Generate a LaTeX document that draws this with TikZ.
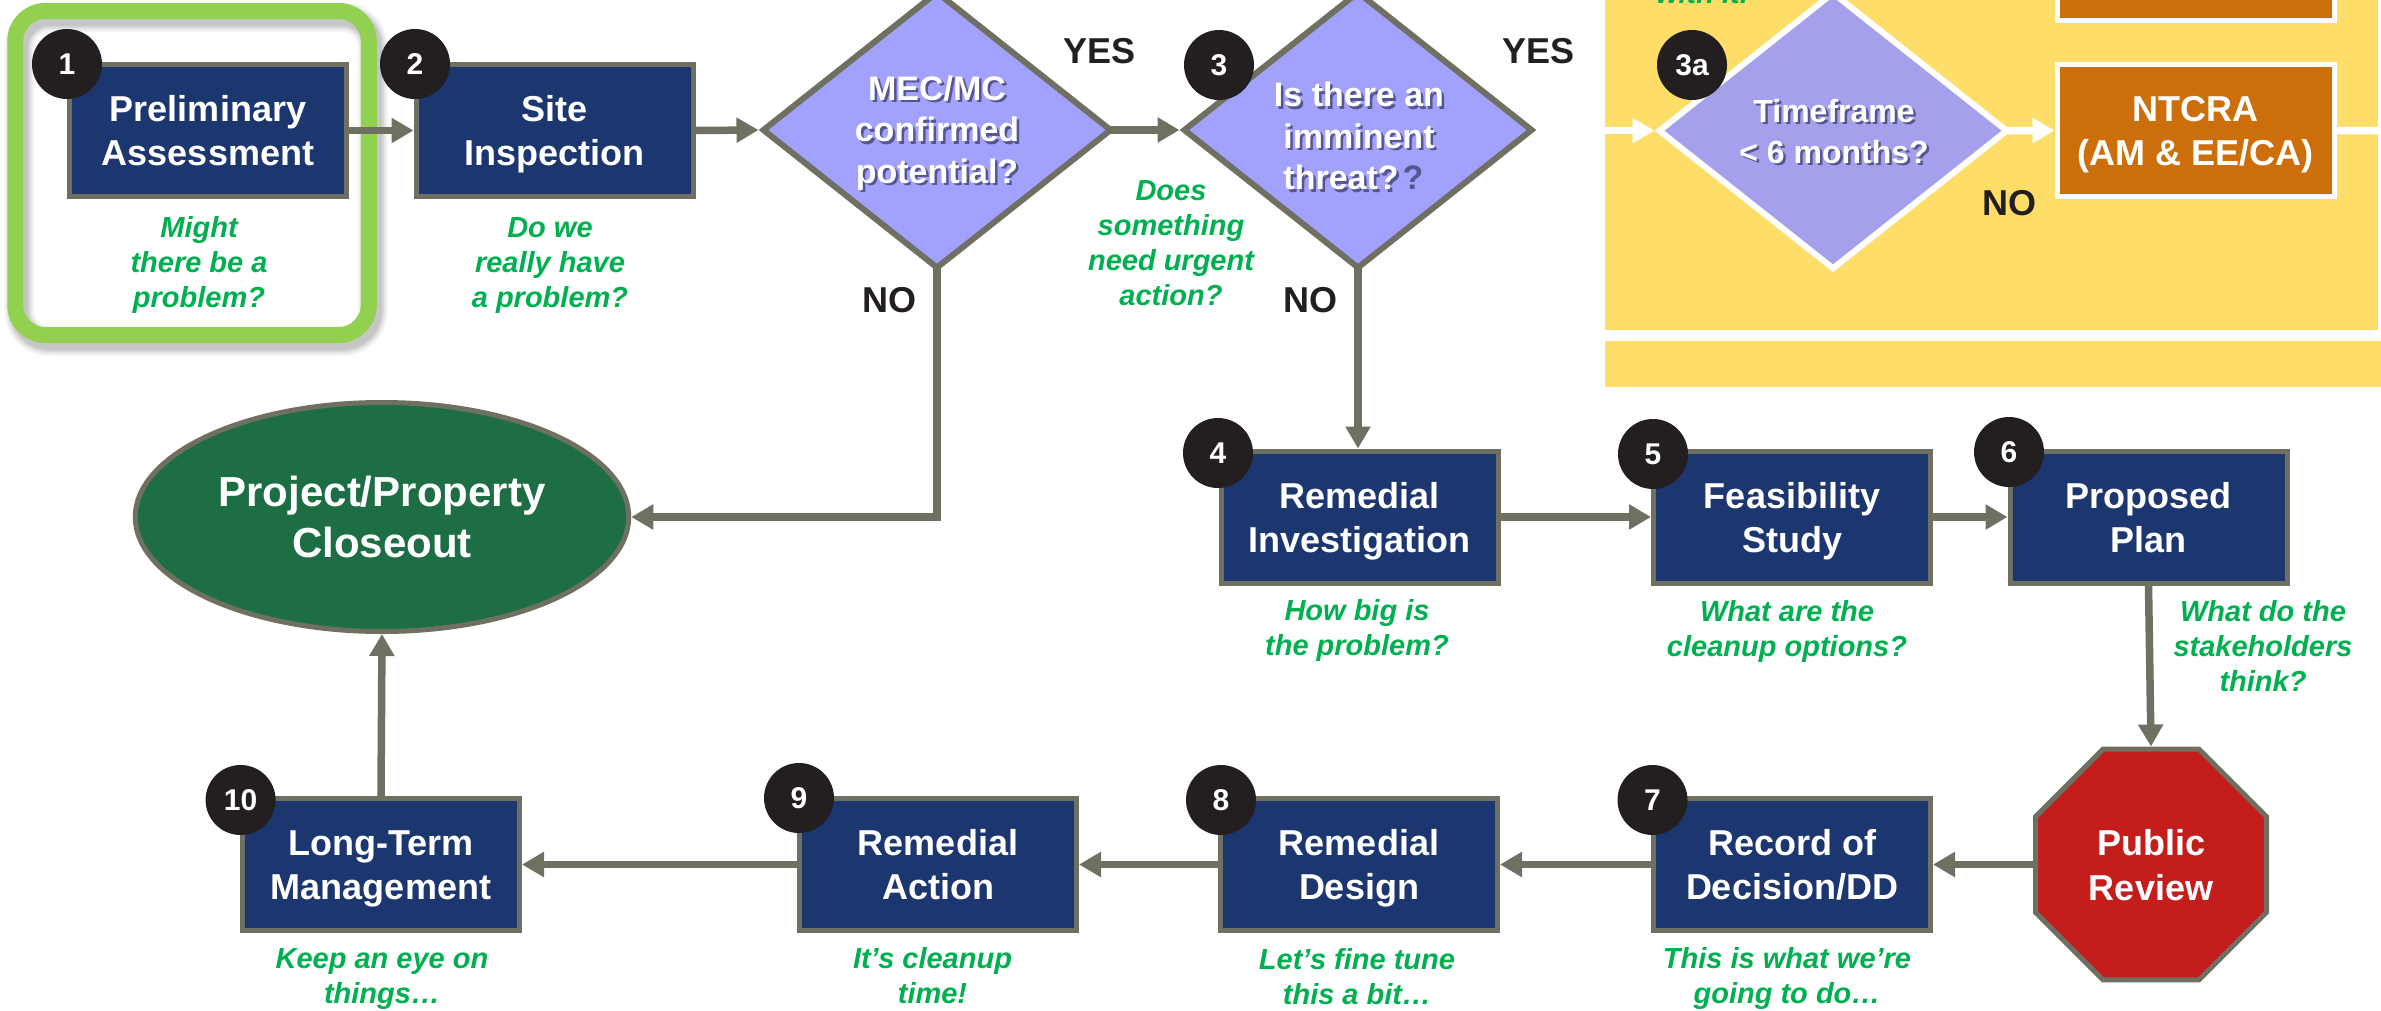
\documentclass[tikz,border=0pt]{standalone}
\usepackage{fontspec}
\setmainfont{Liberation Sans}
\usetikzlibrary{arrows.meta,shapes.geometric}
\definecolor{gline}{HTML}{6F7062}
\definecolor{navy}{HTML}{1C3770}
\definecolor{forest}{HTML}{1D6E44}
\definecolor{stopred}{HTML}{C41E1C}
\definecolor{framegreen}{HTML}{92D050}
\definecolor{capgreen}{HTML}{00B050}
\definecolor{ochre}{HTML}{CC6F0B}
\definecolor{sand}{HTML}{FEDD68}
\definecolor{lilac}{HTML}{A2A2FE}
\definecolor{lilactwo}{HTML}{A5A0EB}
\definecolor{ink}{HTML}{231F20}
\definecolor{dshadow}{HTML}{55558F}
\newcommand\st{\rule[-.2\baselineskip]{0pt}{\baselineskip}}
\newcommand\shw[1]{\st\leavevmode\rlap{\kern2.5pt\raisebox{-2.5pt}{\color{dshadow}#1}}#1}
\tikzset{
  boxbase/.style={rectangle,draw,line width=5pt,inner sep=0pt,minimum width=277pt,minimum height=132pt,
    text=white,align=center,font=\fontsize{36}{44}\selectfont\bfseries},
  navybox/.style={boxbase,draw=gline,fill=navy},
  orangebox/.style={boxbase,draw=white,fill=ochre},
  decision/.style={diamond,draw=gline,fill=lilac,line width=6pt,inner sep=0pt,outer sep=3.5pt,minimum width=350pt,minimum height=278pt},
  decisiontwo/.style={decision,draw=white,fill=lilactwo},
  dtext/.style={text=white,align=center,inner sep=0pt,font=\fontsize{34}{41.5}\selectfont\bfseries},
  badge/.style={circle,fill=ink,text=white,inner sep=0pt,minimum size=70pt,font=\fontsize{30}{32}\selectfont\bfseries},
  caption/.style={anchor=north,yshift=1pt,text=capgreen,align=center,inner sep=0pt,font=\fontsize{29}{35}\selectfont\bfseries\itshape},
  answer/.style={text=ink,inner sep=0pt,font=\fontsize{36}{40}\selectfont\bfseries},
  flow/.style={draw=gline,line width=7.5pt,-{Triangle[length=22pt,width=24pt]}},
  flowwhite/.style={draw=white,line width=7.5pt,-{Triangle[length=22pt,width=24pt]}},
  fromtip/.style={shorten <=-5pt},
  framering/.style={rectangle,rounded corners=30pt,minimum width=353.5pt,minimum height=324pt,inner sep=0pt},
}
\begin{document}
\begin{tikzpicture}[x=1pt,y=-1pt]
\useasboundingbox (0,0) rectangle (2381,1010);
\clip (0,0) rectangle (2381,1010);
% yellow panels
\fill[sand] (1605,0) rectangle (2378,330);
\fill[sand] (1605,341) rectangle (2381,387);
% highlight frame with soft shadow
\foreach \w/\o in {30/.04,26/.06,22/.07,18/.08}{
  \node[framering,draw=black,opacity=\o,line width=\w pt] (frameshadow\w) at (196,179) {};
}
\node[framering,draw=framegreen,line width=16pt] (frame) at (192,173) {};
% connectors that leave a decision tip (drawn under the decisions)
\coordinate (inL) at (1605,130.7);
\coordinate (outR) at (2378,130.7);
% boxes
\node[navybox] (b1) at (208,130.5) {\st Preliminary\\\st Assessment};
\node[navybox] (b2) at (554.5,130.5) {\st Site\\\st Inspection};
\node[navybox] (b4) at (1359.5,517) {\st Remedial\\\st Investigation};
\node[navybox] (b5) at (1792,517) {\st Feasibility\\\st Study};
\node[navybox] (b6) at (2148.5,517) {\st Proposed\\\st Plan};
\node[navybox] (b7) at (1792,864.5) {\st Record of\\\st Decision/DD};
\node[navybox] (b8) at (1359,864.5) {\st Remedial\\\st Design};
\node[navybox] (b9) at (938,864.5) {\st Remedial\\\st Action};
\node[navybox] (b10) at (381,864.5) {\st Long-Term\\\st Management};
\node[orangebox] (ntcra) at (2195.5,130.5) {\st NTCRA\\\st (AM \& EE/CA)};
\node[orangebox,minimum height=140pt] (upper) at (2195.5,-49.5) {};
% terminal shapes
\node[ellipse,draw=gline,fill=forest,line width=5pt,inner sep=0pt,minimum width=493.5pt,minimum height=229pt,
  text=white,align=center,font=\fontsize{42}{51}\selectfont\bfseries] (close) at (382,517) {\st Project/Property\\\st Closeout};
\node[regular polygon,regular polygon sides=8,draw=gline,fill=stopred,line width=5pt,inner sep=0pt,
  minimum size=250pt,text=white,align=center,font=\fontsize{36}{45}\selectfont\bfseries] (review) at (2151,864.5) {\st Public\\\st Review};
% decisions
\node[decision] (d1) at (937,130) {};
\node[decision] (d2) at (1358,130) {};
\node[decisiontwo] (d3) at (1833,130.7) {};
\node[dtext] (d1t) at (937,130) {\shw{MEC/MC}\\\shw{confirmed}\\\shw{potential?}};
\node[dtext] (d2t) at (1359,136) {\shw{Is there an}\\\shw{imminent}\\\rlap{\shw{threat?}\kern4pt{\color{dshadow}?}}\hphantom{imminent}};
\node[dtext,font=\fontsize{32}{41}\selectfont\bfseries] (d3t) at (1834,130.4) {\shw{Timeframe}\\\shw{< 6 months?}};
% connectors
\draw[flow] (b1.east) -- (b2.west);
\draw[flow] (b2.east) -- (d1.west);
\draw[flow,fromtip] (d1.east) -- (d2.west);
\draw[flow,fromtip] (d1.south) |- (close.east);
\draw[flow,fromtip] (d2.south) -- (d2.south |- b4.north);
\draw[flow] (b4.east) -- (b5.west);
\draw[flow] (b5.east) -- (b6.west);
\draw[flow] (b6.south) -- (review.north);
\draw[flow] (review.west |- b7.east) -- (b7.east);
\draw[flow] (b7.west) -- (b8.east);
\draw[flow] (b8.west) -- (b9.east);
\draw[flow] (b9.west) -- (b10.east);
\draw[flow] (b10.north) -- (close.south);
\draw[flowwhite] (inL) -- (d3.west);
\draw[flowwhite,fromtip] (d3.east) -- (ntcra.west);
\draw[draw=white,line width=7.5pt] (ntcra.east) -- (outR);
% badges
\node[badge] (n1) at (67,64) {1};
\node[badge] (n2) at (415,64) {2};
\node[badge] (n3) at (1219,65) {3};
\node[badge] (n3a) at (1692,65) {3a};
\node[badge] (n4) at (1218,453) {4};
\node[badge] (n5) at (1653,454) {5};
\node[badge] (n6) at (2009,452) {6};
\node[badge] (n7) at (1652.5,800) {7};
\node[badge] (n8) at (1221,800) {8};
\node[badge] (n9) at (799,798) {9};
\node[badge] (n10) at (240.6,800) {10};
% answers
\node[answer] (yes1) at (1099.5,51) {YES};
\node[answer] (yes2) at (1538,51) {YES};
\node[answer] (no1) at (889,300) {NO};
\node[answer] (no2) at (1310,300) {NO};
\node[answer] (no3) at (2009,203) {NO};
% captions
\node[caption] (c1) at (199,210) {\st Might\\\st there be a\\\st problem?};
\node[caption] (c2) at (550,210) {\st Do we\\\st really have\\\st a problem?};
\node[caption] (c3) at (1171,173) {\st Does\\\st something\\\st need urgent\\\st action?};
\node[caption] (c3a) at (1702,-24) {\st with it.};
\node[caption] (c4) at (1357,593) {\st How big is\\\st the problem?};
\node[caption] (c5) at (1787,594) {\st What are the\\\st cleanup options?};
\node[caption] (c6) at (2263,594) {\st What do the\\\st stakeholders\\\st think?};
\node[caption] (c7) at (1787,941) {\st This is what we’re\\\st going to do…};
\node[caption] (c8) at (1357,942) {\st Let’s fine tune\\\st this a bit…};
\node[caption] (c9) at (932.5,941) {\st It’s cleanup\\\st time!};
\node[caption] (c10) at (382,941) {\st Keep an eye on\\\st things…};
\end{tikzpicture}
\end{document}
